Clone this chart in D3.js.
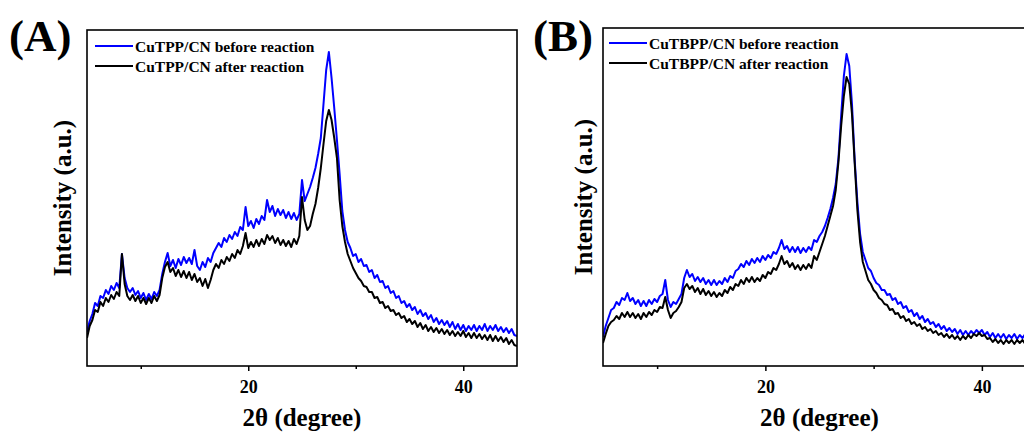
<!DOCTYPE html>
<meta charset="utf-8">

<head>
    <style>
        body {
            margin: 0;
            background: #fff;
        }

        svg {
            display: block;
        }

        text {
            font-family: "Liberation Serif", "Times New Roman", serif;
            font-weight: bold;
            fill: #000;
        }

        .tick line {
            stroke: #000;
            stroke-width: 1.5;
        }

        .pattern {
            fill: none;
            stroke-width: 2;
            stroke-linejoin: round;
        }
    </style>
</head>

<body>
    <script src="https://cdnjs.cloudflare.com/ajax/libs/d3/7.8.5/d3.min.js"></script>
    <script>
        // scan grid, 5 - 45 deg, step 0.25 deg
        var twoTheta = d3.range(5, 45.001, 0.25);

        var majorTicks = [20, 40];
        var minorTicks = [10, 30];

        // panel A, intensity (a.u.)
        var cutppBefore = [
            34, 45, 52, 63, 60, 70, 68, 76, 72, 80, 76, 83, 78, 112, 88, 78, 74, 78, 71, 75,
            68, 73, 66, 72, 67, 74, 70, 76, 92, 104, 113, 100, 106, 98, 107, 101, 109, 103, 108, 102,
            116, 100, 96, 104, 99, 108, 104, 113, 118, 123, 119, 128, 124, 131, 127, 134, 130, 139, 136, 159,
            140, 145, 138, 147, 142, 150, 146, 166, 154, 160, 150, 157, 151, 156, 148, 154, 147, 153, 146, 152,
            186, 165, 172, 179, 188, 198, 212, 228, 262, 296, 314, 288, 258, 226, 192, 155, 136, 124, 118, 110,
            112, 104, 107, 100, 101, 94, 96, 88, 91, 84, 85, 78, 80, 73, 75, 68, 70, 63, 65, 59,
            62, 56, 59, 52, 56, 50, 53, 47, 51, 44, 48, 42, 46, 41, 45, 39, 44, 37, 42, 36,
            41, 35, 40, 36, 41, 35, 40, 36, 42, 35, 40, 36, 41, 35, 39, 34, 38, 33, 37, 31,
            30
        ];
        var cutppAfter = [
            28, 40, 46, 56, 54, 64, 60, 68, 64, 71, 67, 74, 70, 112, 82, 70, 66, 71, 65, 70,
            63, 68, 62, 68, 63, 70, 65, 71, 88, 99, 104, 94, 98, 90, 96, 89, 95, 88, 94, 86,
            92, 84, 88, 80, 87, 78, 86, 96, 102, 98, 106, 102, 109, 105, 112, 108, 116, 112, 120, 133,
            118, 124, 119, 126, 120, 127, 122, 131, 126, 130, 123, 128, 121, 126, 120, 125, 119, 127, 122, 130,
            169, 146, 136, 140, 152, 162, 178, 198, 222, 245, 256, 246, 228, 208, 166, 140, 124, 112, 105, 98,
            93, 88, 85, 80, 79, 74, 74, 68, 69, 63, 64, 58, 60, 55, 56, 51, 53, 48, 50, 44,
            47, 42, 45, 39, 43, 37, 41, 35, 39, 34, 38, 33, 37, 32, 36, 31, 35, 30, 34, 30,
            35, 29, 33, 28, 33, 28, 32, 27, 31, 26, 31, 25, 30, 25, 29, 24, 28, 22, 26, 21,
            20
        ];

        // panel B, intensity (a.u.)
        var cutbppBefore = [
            29, 40, 48, 56, 58, 64, 61, 68, 66, 73, 65, 68, 62, 66, 60, 65, 60, 66, 62, 67,
            64, 70, 72, 86, 66, 59, 64, 62, 67, 72, 88, 96, 89, 92, 85, 89, 84, 88, 82, 86,
            81, 86, 81, 85, 82, 88, 84, 90, 88, 95, 97, 102, 99, 105, 101, 107, 103, 108, 104, 110,
            106, 111, 108, 114, 112, 118, 126, 117, 120, 114, 119, 114, 119, 113, 118, 114, 119, 116, 126, 124,
            130, 134, 140, 148, 157, 168, 182, 208, 250, 290, 312, 300, 262, 206, 164, 132, 114, 106, 98, 95,
            88, 83, 81, 76, 76, 71, 72, 66, 68, 62, 64, 58, 60, 54, 56, 50, 53, 47, 50, 44,
            47, 42, 44, 39, 42, 37, 40, 35, 38, 34, 37, 32, 36, 31, 35, 31, 35, 32, 36, 33,
            36, 31, 34, 29, 33, 28, 32, 28, 32, 27, 31, 28, 32, 27, 31, 28, 32, 27, 31, 28,
            30
        ];
        var cutbppAfter = [
            23, 32, 40, 44, 46, 50, 47, 53, 49, 54, 49, 53, 48, 52, 47, 53, 49, 54, 51, 56,
            54, 59, 58, 69, 56, 48, 53, 55, 59, 64, 78, 82, 77, 80, 74, 78, 72, 77, 71, 75,
            70, 74, 69, 73, 70, 76, 73, 79, 76, 82, 80, 86, 82, 88, 84, 89, 84, 88, 85, 91,
            88, 94, 92, 98, 96, 102, 110, 102, 105, 99, 103, 97, 101, 96, 101, 97, 102, 98, 110, 106,
            114, 122, 130, 140, 150, 160, 176, 204, 240, 270, 289, 282, 252, 203, 156, 124, 104, 95, 86, 82,
            76, 73, 68, 66, 62, 61, 56, 57, 52, 53, 48, 50, 45, 47, 42, 44, 40, 42, 37, 39,
            35, 37, 33, 35, 31, 33, 29, 32, 28, 31, 27, 30, 26, 30, 27, 31, 28, 32, 30, 33,
            30, 31, 27, 28, 24, 27, 23, 26, 22, 26, 23, 26, 22, 26, 23, 26, 22, 26, 23, 26,
            24
        ];

        var seriesColors = ["#0000ff", "#000000"];

        var panels = [
            {
                tag: "(A)", tagX: 9,
                left: 87, right: 517, top: 30, bottom: 366, yMax: 336,
                yLabelX: 71,
                legendX: 95, legendY: 46,
                names: ["CuTPP/CN before reaction", "CuTPP/CN after reaction"],
                series: [cutppBefore, cutppAfter]
            },
            {
                tag: "(B)", tagX: 533,
                left: 603, right: 1036, top: 28, bottom: 366, yMax: 338,
                yLabelX: 592,
                legendX: 609, legendY: 43,
                names: ["CuTBPP/CN before reaction", "CuTBPP/CN after reaction"],
                series: [cutbppBefore, cutbppAfter]
            }
        ];

        var svg = d3.select("body").append("svg")
            .attr("width", 1024)
            .attr("height", 435);

        panels.forEach(function (p, k) {
            var g = svg.append("g");

            var x = d3.scaleLinear().domain([5, 45]).range([p.left, p.right]);
            var y = d3.scaleLinear().domain([0, p.yMax]).range([p.bottom, p.top]);

            var line = d3.line()
                .x(function (d, i) { return x(twoTheta[i]); })
                .y(function (d) { return y(d); });

            g.append("clipPath").attr("id", "clip" + k)
                .append("rect")
                .attr("x", p.left).attr("y", p.top)
                .attr("width", p.right - p.left).attr("height", p.bottom - p.top);

            p.series.forEach(function (s, j) {
                g.append("path")
                    .datum(s)
                    .attr("class", "pattern")
                    .attr("clip-path", "url(#clip" + k + ")")
                    .attr("stroke", seriesColors[j])
                    .attr("d", line);
            });

            // frame
            g.append("rect")
                .attr("x", p.left).attr("y", p.top)
                .attr("width", p.right - p.left).attr("height", p.bottom - p.top)
                .attr("fill", "none")
                .attr("stroke", "#000")
                .attr("stroke-width", 1.6);

            // bottom axis, major + minor ticks
            var major = g.append("g")
                .attr("transform", "translate(0," + p.bottom + ")")
                .call(d3.axisBottom(x).tickValues(majorTicks).tickSize(5).tickPadding(9)
                    .tickFormat(d3.format("d")));
            major.select(".domain").remove();
            major.selectAll("text")
                .attr("fill", "#000")
                .style("font-size", "18px")
                .style("font-family", "'Liberation Serif', 'Times New Roman', serif")
                .style("font-weight", "bold");

            var minor = g.append("g")
                .attr("transform", "translate(0," + p.bottom + ")")
                .call(d3.axisBottom(x).tickValues(minorTicks).tickSize(3).tickFormat(""));
            minor.select(".domain").remove();

            // axis titles
            g.append("text")
                .attr("x", (p.left + p.right) / 2)
                .attr("y", 426)
                .attr("text-anchor", "middle")
                .style("font-size", "25px")
                .text("2θ (degree)");

            g.append("text")
                .attr("transform", "translate(" + p.yLabelX + "," + ((p.top + p.bottom) / 2) + ") rotate(-90)")
                .attr("text-anchor", "middle")
                .style("font-size", "25px")
                .text("Intensity (a.u.)");

            // panel tag
            g.append("text")
                .attr("x", p.tagX)
                .attr("y", 51)
                .style("font-size", "45px")
                .text(p.tag);

            // legend
            p.names.forEach(function (n, j) {
                var ly = p.legendY + j * 20;
                g.append("line")
                    .attr("x1", p.legendX).attr("x2", p.legendX + 38)
                    .attr("y1", ly).attr("y2", ly)
                    .attr("stroke", seriesColors[j])
                    .attr("stroke-width", 2);
                g.append("text")
                    .attr("x", p.legendX + 40)
                    .attr("y", ly + 6)
                    .style("font-size", "15.5px")
                    .text(n);
            });
        });
    </script>
</body>
